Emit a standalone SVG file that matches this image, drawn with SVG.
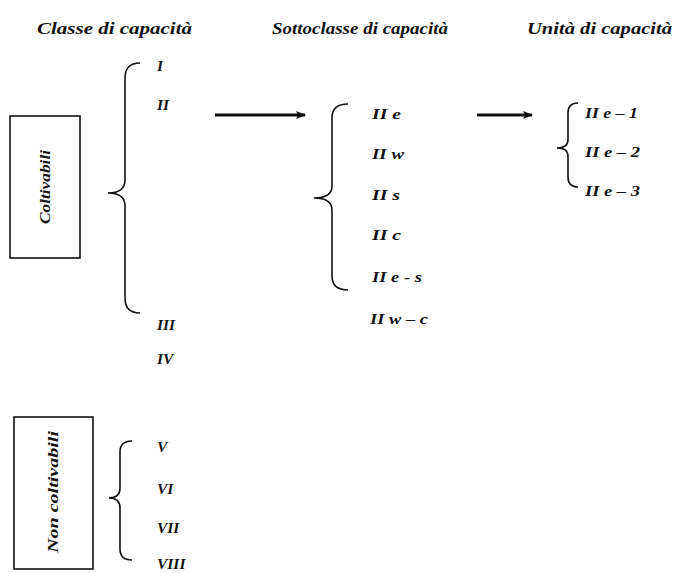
<svg xmlns="http://www.w3.org/2000/svg" width="677" height="573" viewBox="0 0 677 573">
<defs>
<marker id="ah" markerWidth="10" markerHeight="8" refX="9" refY="4" orient="auto" markerUnits="userSpaceOnUse">
<path d="M0,0 L10,4 L0,8 L2,4 Z" fill="#111"/>
</marker>
</defs>
<style>
text{font-family:"Liberation Serif","Times New Roman",serif;font-weight:bold;font-style:italic;fill:#111}
.h{font-size:16px}
.l{font-size:15.5px}
.b{fill:none;stroke:#111;stroke-width:1.6}
.box{fill:#fff;stroke:#111;stroke-width:1.6}
.arr{stroke:#111;stroke-width:2.8;fill:none}
</style>
<rect width="677" height="573" fill="#fff"/>
<g id="headings">
<text class="h" x="37" y="34" textLength="155" lengthAdjust="spacingAndGlyphs">Classe di capacità</text>
<text class="h" x="272" y="34" textLength="176" lengthAdjust="spacingAndGlyphs">Sottoclasse di capacità</text>
<text class="h" x="527" y="34" textLength="145" lengthAdjust="spacingAndGlyphs">Unità di capacità</text>
</g>
<g id="coltivabili">
<rect class="box" x="10" y="116" width="70" height="142"/>
<text class="l" transform="translate(50,187) rotate(-90)" text-anchor="middle" textLength="74" lengthAdjust="spacingAndGlyphs">Coltivabili</text>
</g>
<g id="non-coltivabili">
<rect class="box" x="14" y="417" width="79" height="152"/>
<text class="l" transform="translate(58,492) rotate(-90)" text-anchor="middle" textLength="122" lengthAdjust="spacingAndGlyphs">Non coltivabili</text>
</g>
<g id="classi">
<path class="b" d="M140,63 Q125,63 125,78 L125,180 Q125,193 108,193 Q125,193 125,206 L125,298 Q125,313 140,313"/>
<text class="l" x="157" y="71">I</text>
<text class="l" x="157" y="110">II</text>
<text class="l" x="157" y="330">III</text>
<text class="l" x="157" y="364">IV</text>
</g>
<g id="classi-non">
<path class="b" d="M132,441 Q120,441 120,452 L120,488 Q120,498 109,498 Q120,498 120,508 L120,549 Q120,560 132,560"/>
<text class="l" x="157" y="452">V</text>
<text class="l" x="157" y="494">VI</text>
<text class="l" x="157" y="533">VII</text>
<text class="l" x="157" y="569">VIII</text>
</g>
<g id="sottoclassi">
<path class="b" d="M348,104 Q332,104 332,118 L332,186 Q332,198 314,198 Q332,198 332,210 L332,276 Q332,290 348,290"/>
<text class="l" x="372" y="119" textLength="29" lengthAdjust="spacingAndGlyphs">II e</text>
<text class="l" x="372" y="159" textLength="32" lengthAdjust="spacingAndGlyphs">II w</text>
<text class="l" x="372" y="200" textLength="28" lengthAdjust="spacingAndGlyphs">II s</text>
<text class="l" x="372" y="240" textLength="29" lengthAdjust="spacingAndGlyphs">II c</text>
<text class="l" x="372" y="282" textLength="50" lengthAdjust="spacingAndGlyphs">II e - s</text>
<text class="l" x="370" y="324" textLength="58" lengthAdjust="spacingAndGlyphs">II w – c</text>
</g>
<g id="unita">
<path class="b" d="M578,103 Q568,103 568,113 L568,140 Q568,148 557,148 Q568,148 568,156 L568,177 Q568,187 578,187"/>
<text class="l" x="585" y="118" textLength="53" lengthAdjust="spacingAndGlyphs">II e – 1</text>
<text class="l" x="585" y="157" textLength="55" lengthAdjust="spacingAndGlyphs">II e – 2</text>
<text class="l" x="585" y="196" textLength="55" lengthAdjust="spacingAndGlyphs">II e – 3</text>
</g>
<g id="connectors">
<line class="arr" x1="215" y1="115" x2="305" y2="115" marker-end="url(#ah)"/>
<line class="arr" x1="477" y1="115" x2="532" y2="115" marker-end="url(#ah)"/>
</g>
</svg>
